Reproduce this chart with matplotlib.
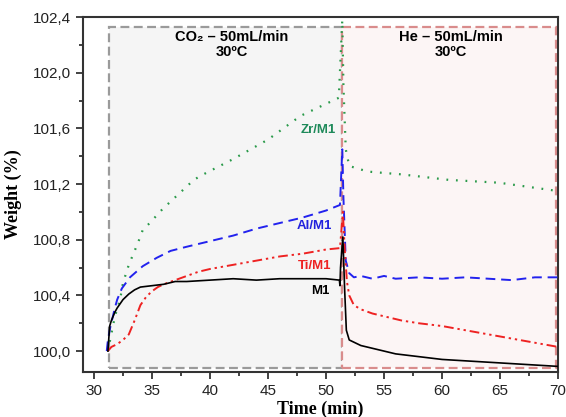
import matplotlib
matplotlib.use('Agg')
import matplotlib.pyplot as plt
from matplotlib.patches import Rectangle
from matplotlib.ticker import MultipleLocator, FuncFormatter

# M1 (black, solid)
t_m1 = [31.2, 31.35, 31.5, 31.8, 32.0, 32.5, 33.0, 33.5, 34.0, 35.0, 36.0, 37.0,
        38.0, 40.0, 42.0, 44.0, 46.0, 48.0, 50.0, 51.15, 51.2, 51.25, 51.3, 51.45,
        51.6, 51.75, 52.0, 52.5, 53.0, 54.0, 55.0, 56.0, 57.0, 58.0, 60.0, 62.0,
        64.0, 66.0, 68.0, 70.0]
w_m1 = [100.0, 100.18, 100.22, 100.28, 100.31, 100.37, 100.41, 100.44, 100.46,
        100.47, 100.48, 100.50, 100.50, 100.51, 100.52, 100.51, 100.52, 100.52,
        100.52, 100.51, 100.47, 100.60, 100.66, 100.82, 100.45, 100.15, 100.08,
        100.06, 100.04, 100.02, 100.00, 99.98, 99.97, 99.96, 99.94, 99.93, 99.92,
        99.91, 99.90, 99.89]

# Ti/M1 (red, dash-dot-dot)
t_ti = [31.2, 31.5, 32.0, 32.5, 33.0, 33.5, 34.0, 34.5, 35.0, 35.5, 36.0, 37.0,
        38.0, 39.0, 40.0, 42.0, 44.0, 46.0, 48.0, 50.0, 51.2, 51.45, 51.6, 51.8,
        52.0, 52.4, 53.0, 54.0, 55.0, 56.5, 58.0, 60.0, 62.0, 64.0, 66.0, 68.0, 70.0]
w_ti = [100.0, 100.03, 100.05, 100.08, 100.12, 100.22, 100.33, 100.39, 100.43,
        100.46, 100.48, 100.51, 100.54, 100.57, 100.59, 100.62, 100.65, 100.68,
        100.70, 100.73, 100.74, 101.0, 100.75, 100.5, 100.4, 100.33, 100.3, 100.27,
        100.25, 100.22, 100.2, 100.18, 100.15, 100.12, 100.09, 100.06, 100.03]

# Al/M1 (blue, dashed)
t_al = [31.1, 31.2, 31.4, 31.8, 32.0, 32.4, 33.1, 34.2, 35.4, 36.6, 38.0, 40.0,
        42.0, 44.0, 46.0, 48.0, 50.0, 51.2, 51.4, 51.5, 51.7, 52.0, 52.4, 53.0,
        54.0, 55.0, 56.0, 58.0, 60.0, 62.0, 64.0, 66.0, 68.0, 70.0]
w_al = [100.0, 100.08, 100.17, 100.31, 100.37, 100.45, 100.53, 100.61, 100.67,
        100.72, 100.75, 100.79, 100.83, 100.88, 100.92, 100.96, 101.01, 101.05,
        101.45, 101.1, 100.65, 100.56, 100.53, 100.54, 100.52, 100.54, 100.52,
        100.53, 100.52, 100.53, 100.52, 100.51, 100.53, 100.53]

# Zr/M1 (green, dotted)
t_zr = [31.2, 31.8, 32.25, 32.5, 33.0, 33.3, 33.8, 34.2, 34.8, 35.9, 36.8, 38.6,
        39.2, 42.0, 45.0, 47.8, 51.1, 51.4, 51.5, 51.7, 52.0, 53.6, 55.0, 56.5,
        60.6, 64.9, 70.0]
w_zr = [100.0, 100.25, 100.37, 100.49, 100.62, 100.68, 100.78, 100.87, 100.92,
        101.02, 101.09, 101.23, 101.26, 101.38, 101.52, 101.69, 101.82, 102.38,
        101.9, 101.45, 101.33, 101.29, 101.28, 101.27, 101.23, 101.21, 101.15]

# gas switch windows: (start, end)
co2_window = (31.3, 51.4)
he_window = (51.4, 69.8)
box_y = (99.88, 102.33)

plt.rcParams['font.family'] = ['Liberation Sans', 'DejaVu Sans']

fig = plt.figure(figsize=(5.66, 4.17), dpi=100)
ax = fig.add_axes([0.1466, 0.108, 0.8394, 0.851])

ax.add_patch(Rectangle((co2_window[0], box_y[0]), co2_window[1] - co2_window[0],
                       box_y[1] - box_y[0], facecolor='#f5f5f5', edgecolor='#9a9a9a',
                       lw=1.6, ls=(0, (4, 2)), zorder=0))
ax.add_patch(Rectangle((he_window[0], box_y[0]), he_window[1] - he_window[0],
                       box_y[1] - box_y[0], facecolor='#fcf5f5', edgecolor='#d98c8c',
                       lw=1.6, ls=(0, (4, 2)), zorder=0))

ax.plot(t_zr, w_zr, color='#2a9a4a', lw=1.6, ls=(0, (0.8, 3.5)), zorder=3)
ax.plot(t_al, w_al, color='#2222ee', lw=1.4, ls=(0, (5, 3)), zorder=3)
ax.plot(t_ti, w_ti, color='#ee2222', lw=1.4, ls=(0, (5, 2, 1.2, 2, 1.2, 2)), zorder=3)
ax.plot(t_m1, w_m1, color='black', lw=1.2, zorder=4)

ax.text(41.9, 102.26, 'CO\u2082 \u2013 50mL/min', ha='center', va='center',
        fontsize=10.5, fontweight='bold')
ax.text(41.9, 102.15, '30\u00baC', ha='center', va='center', fontsize=10.5, fontweight='bold')
ax.text(60.8, 102.26, 'He \u2013 50mL/min', ha='center', va='center',
        fontsize=10.5, fontweight='bold')
ax.text(60.8, 102.15, '30\u00baC', ha='center', va='center', fontsize=10.5, fontweight='bold')

ax.text(49.3, 101.59, 'Zr/M1', color='#1e8a5a', fontsize=9.5, fontweight='bold',
        ha='center', va='center')
ax.text(49.0, 100.90, 'Al/M1', color='#2222dd', fontsize=9.5, fontweight='bold',
        ha='center', va='center')
ax.text(49.0, 100.61, 'Ti/M1', color='#ee2222', fontsize=9.5, fontweight='bold',
        ha='center', va='center')
ax.text(49.5, 100.43, 'M1', color='black', fontsize=9.5, fontweight='bold',
        ha='center', va='center')

ax.set_xlim(29.05, 70)
ax.set_ylim(99.85, 102.4)
ax.xaxis.set_major_locator(MultipleLocator(5))
ax.xaxis.set_minor_locator(MultipleLocator(2.5))
ax.yaxis.set_major_locator(MultipleLocator(0.4))
ax.yaxis.set_minor_locator(MultipleLocator(0.2))
ax.yaxis.set_major_formatter(FuncFormatter(lambda v, p: ('%.1f' % v).replace('.', ',')))
ax.tick_params(which='both', direction='out', width=1.2, colors='#222222',
               labelsize=11, labelcolor='#222222')
ax.tick_params(which='major', length=5)
ax.tick_params(which='minor', length=3)
for s in ax.spines.values():
    s.set_linewidth(1.5)
    s.set_color('#333333')

ax.set_xlabel('Time (min)', family='Liberation Serif', fontweight='bold', fontsize=13,
              labelpad=2)
ax.set_ylabel('Weight (%)', family='Liberation Serif', fontweight='bold', fontsize=13,
              labelpad=8)

fig.savefig('out.png', dpi=100)
